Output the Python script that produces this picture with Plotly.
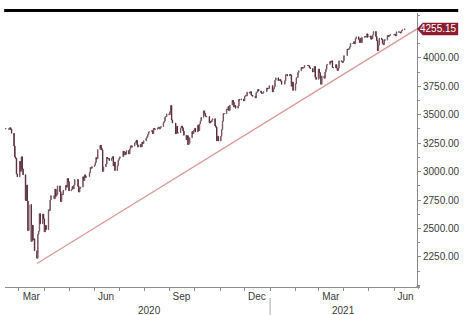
import plotly.graph_objects as go

# S&P 500 daily closes, Feb 2020 - Jun 2021
trade_dates = (
    ["2020-02-%02d" % d for d in [14,18,19,20,21,24,25,26,27,28]] +
    ["2020-03-%02d" % d for d in [2,3,4,5,6,9,10,11,12,13,16,17,18,19,20,23,24,25,26,27,30,31]] +
    ["2020-04-%02d" % d for d in [1,2,3,6,7,8,9,13,14,15,16,17,20,21,22,23,24,27,28,29,30]] +
    ["2020-05-%02d" % d for d in [1,4,5,6,7,8,11,12,13,14,15,18,19,20,21,22,26,27,28,29]] +
    ["2020-06-%02d" % d for d in [1,2,3,4,5,8,9,10,11,12,15,16,17,18,19,22,23,24,25,26,29,30]] +
    ["2020-07-%02d" % d for d in [1,2,6,7,8,9,10,13,14,15,16,17,20,21,22,23,24,27,28,29,30,31]] +
    ["2020-08-%02d" % d for d in [3,4,5,6,7,10,11,12,13,14,17,18,19,20,21,24,25,26,27,28,31]] +
    ["2020-09-%02d" % d for d in [1,2,3,4,8,9,10,11,14,15,16,17,18,21,22,23,24,25,28,29,30]] +
    ["2020-10-%02d" % d for d in [1,2,5,6,7,8,9,12,13,14,15,16,19,20,21,22,23,26,27,28,29,30]] +
    ["2020-11-%02d" % d for d in [2,3,4,5,6,9,10,11,12,13,16,17,18,19,20,23,24,25,27,30]] +
    ["2020-12-%02d" % d for d in [1,2,3,4,7,8,9,10,11,14,15,16,17,18,21,22,23,24,28,29,30,31]] +
    ["2021-01-%02d" % d for d in [4,5,6,7,8,11,12,13,14,15,19,20,21,22,25,26,27,28,29]] +
    ["2021-02-%02d" % d for d in [1,2,3,4,5,8,9,10,11,12,16,17,18,19,22,23,24,25,26]] +
    ["2021-03-%02d" % d for d in [1,2,3,4,5,8,9,10,11,12,15,16,17,18,19,22,23,24,25,26,29,30,31]] +
    ["2021-04-%02d" % d for d in [1,5,6,7,8,9,12,13,14,15,16,19,20,21,22,23,26,27,28,29,30]] +
    ["2021-05-%02d" % d for d in [3,4,5,6,7,10,11,12,13,14,17,18,19,20,21,24,25,26,27,28]] +
    ["2021-06-%02d" % d for d in [1,2,3,4,7,8,9,10,11,14]]
)

closes = [
    3380.16,3370.29,3386.15,3373.23,3337.75,3225.89,3128.21,3116.39,2978.76,2954.22,
    3090.23,3003.37,3130.12,3023.94,2972.37,2746.56,2882.23,2741.38,2480.64,2711.02,2386.13,2529.19,2398.10,2409.39,2304.92,2237.40,2447.33,2475.56,2630.07,2541.47,2626.65,2584.59,
    2470.50,2526.90,2488.65,2663.68,2659.41,2749.98,2789.82,2761.63,2846.06,2783.36,2799.55,2874.56,2823.16,2736.56,2799.31,2797.80,2836.74,2878.48,2863.39,2939.51,2912.43,
    2830.71,2842.74,2868.44,2848.42,2881.19,2929.80,2930.32,2870.12,2820.00,2852.50,2863.70,2953.91,2922.94,2971.61,2948.51,2955.45,2991.77,3036.13,3029.73,3044.31,
    3055.73,3080.82,3122.87,3112.35,3193.93,3232.39,3207.18,3190.14,3002.10,3041.31,3066.59,3124.74,3113.49,3115.34,3097.74,3117.86,3131.29,3050.33,3083.76,3009.05,3053.24,3100.29,
    3115.86,3130.01,3179.72,3145.32,3169.94,3152.05,3185.04,3155.22,3197.52,3226.56,3215.57,3224.73,3251.84,3257.30,3276.02,3235.66,3215.63,3239.41,3218.44,3258.44,3246.22,3271.12,
    3294.61,3306.51,3327.77,3349.16,3351.28,3360.47,3333.69,3380.35,3373.43,3372.85,3381.99,3389.78,3374.85,3385.51,3397.16,3431.28,3443.62,3478.73,3484.55,3508.01,3500.31,
    3526.65,3580.84,3455.06,3426.96,3331.84,3398.96,3339.19,3340.97,3383.54,3401.20,3385.49,3357.01,3319.47,3281.06,3315.57,3236.92,3246.59,3298.46,3351.60,3335.47,3363.00,
    3380.80,3348.42,3408.60,3360.97,3419.44,3446.83,3477.14,3534.22,3511.93,3488.67,3483.34,3483.81,3426.92,3443.12,3435.56,3453.49,3465.39,3400.97,3390.68,3271.03,3310.11,3269.96,
    3310.24,3369.16,3443.44,3510.45,3509.44,3550.50,3545.53,3572.66,3537.01,3585.15,3626.91,3609.53,3567.79,3581.87,3557.54,3577.59,3635.41,3629.65,3638.35,3621.63,
    3662.45,3669.01,3666.72,3699.12,3691.96,3702.25,3672.82,3668.10,3663.46,3647.49,3694.62,3701.17,3722.48,3709.41,3694.92,3687.26,3690.01,3703.06,3735.36,3727.04,3732.04,3756.07,
    3700.65,3726.86,3748.14,3803.79,3824.68,3799.61,3801.19,3809.84,3795.54,3768.25,3798.91,3851.85,3853.07,3841.47,3855.36,3849.62,3750.77,3787.38,3714.24,
    3773.86,3826.31,3830.17,3871.74,3886.83,3915.59,3911.23,3909.88,3916.38,3934.83,3932.59,3931.33,3913.97,3906.71,3876.50,3881.37,3925.43,3829.34,3811.15,
    3901.82,3870.29,3819.72,3768.47,3841.94,3821.35,3875.44,3898.81,3939.34,3943.34,3968.94,3962.71,3974.12,3915.46,3913.10,3940.59,3910.52,3889.14,3909.52,3974.54,3971.09,3958.55,3972.89,
    4019.87,4077.91,4073.94,4079.95,4097.17,4128.80,4127.99,4141.59,4124.66,4170.42,4185.47,4163.26,4134.94,4173.42,4134.98,4180.17,4187.62,4186.72,4183.18,4211.47,4181.17,
    4192.66,4164.66,4167.59,4201.62,4232.60,4188.43,4152.10,4063.04,4112.50,4173.85,4163.29,4127.83,4115.68,4159.12,4155.86,4197.05,4188.13,4195.99,4200.88,4204.11,
    4202.04,4208.12,4192.85,4229.89,4226.52,4227.26,4219.55,4239.18,4247.44,4255.15,
]
prior_close = 3373.94  # close before the first shown day

# trend line from the March 2020 low to the latest level
trend_dates = ["2020-03-23", "2021-06-29"]
trend_values = [2191.86, 4255.15]

last_value = 4255.15
y_ticks = [2250, 2500, 2750, 3000, 3250, 3500, 3750, 4000]
month_label_dates = ["2020-03-16", "2020-06-15", "2020-09-15", "2020-12-16", "2021-03-16", "2021-06-15"]
month_labels = ["Mar", "Jun", "Sep", "Dec", "Mar", "Jun"]
year_label_dates = ["2020-08-07", "2021-03-31"]
year_labels = ["2020", "2021"]
year_break = "2021-01-01"

opens = [prior_close] + closes[:-1]
highs = [max(o, c) for o, c in zip(opens, closes)]
lows = [min(o, c) for o, c in zip(opens, closes)]

FONT = "Liberation Sans"
AX = "#8c8c8c"

fig = go.Figure()
fig.add_trace(go.Candlestick(
    x=trade_dates, open=opens, high=highs, low=lows, close=closes,
    increasing=dict(line=dict(color="#7a5663", width=1), fillcolor="#c8b2b9"),
    decreasing=dict(line=dict(color="#5a2e3c", width=1), fillcolor="#5a2e3c"),
    showlegend=False, hoverinfo="skip",
))
fig.add_trace(go.Scatter(
    x=trend_dates, y=trend_values, mode="lines",
    line=dict(color="#d99a98", width=1.3), showlegend=False, hoverinfo="skip",
))

fig.update_layout(
    width=465, height=315,
    margin=dict(l=5, r=38, t=13, b=28),
    paper_bgcolor="white", plot_bgcolor="white",
    font=dict(family=FONT, size=10, color="#3a3a3a"),
    xaxis=dict(
        type="date", range=["2020-02-13", "2021-06-29"],
        rangeslider=dict(visible=False),
        showgrid=False, zeroline=False,
        showline=True, linecolor=AX, linewidth=1,
        tickmode="array", tickvals=month_label_dates, ticktext=month_labels,
        ticks="", tickfont=dict(family=FONT, size=10, color="#3a3a3a"),
        minor=dict(tickmode="linear", tick0="2020-01-01", dtick="M1",
                   ticks="outside", ticklen=3, tickcolor=AX, showgrid=False),
    ),
    yaxis=dict(
        side="right", range=[1985, 4395],
        showgrid=False, zeroline=False,
        showline=True, linecolor=AX, linewidth=1,
        tickmode="array", tickvals=y_ticks,
        ticktext=["%.2f" % v for v in y_ticks],
        ticks="outside", ticklen=3, tickcolor=AX,
        tickfont=dict(family=FONT, size=10, color="#3a3a3a"),
        minor=dict(tickmode="linear", tick0=0, dtick=125,
                   ticks="outside", ticklen=2, tickcolor=AX, showgrid=False),
    ),
)

# thick black rule at the top
fig.add_shape(type="line", xref="paper", yref="paper",
              x0=-0.002, x1=1.1, y0=1.009, y1=1.009,
              line=dict(color="black", width=3))

# value tag
half = 55
fig.add_shape(type="path", xref="paper", yref="y",
              path=f"M 1.0,{last_value} L 1.014,{last_value + half} L 1.1,{last_value + half} "
                   f"L 1.1,{last_value - half} L 1.014,{last_value - half} Z",
              fillcolor="#8a1c2f", line=dict(width=0))
fig.add_annotation(xref="paper", yref="y", x=1.052, y=last_value,
                   text="%.2f" % last_value, showarrow=False,
                   font=dict(family=FONT, size=10, color="white"),
                   xanchor="center", yanchor="middle")

# year labels and separator
for d, t in zip(year_label_dates, year_labels):
    fig.add_annotation(xref="x", yref="paper", x=d, y=-0.085, text=t,
                       showarrow=False, yanchor="middle",
                       font=dict(family=FONT, size=10, color="#3a3a3a"))
fig.add_shape(type="line", xref="x", yref="paper", x0=year_break, x1=year_break,
              y0=-0.04, y1=-0.11, line=dict(color="#aaaaaa", width=1))

# arrow at the end of the time axis
fig.add_annotation(xref="paper", yref="paper", x=1.008, y=0, ax=-6, ay=0,
                   text="", showarrow=True, arrowhead=1, arrowsize=0.8,
                   arrowwidth=1, arrowcolor=AX)

fig.write_html("out.html",
               config={"displayModeBar": False, "staticPlot": True},
               post_script="document.body.style.margin='0';document.body.style.overflow='hidden';")
